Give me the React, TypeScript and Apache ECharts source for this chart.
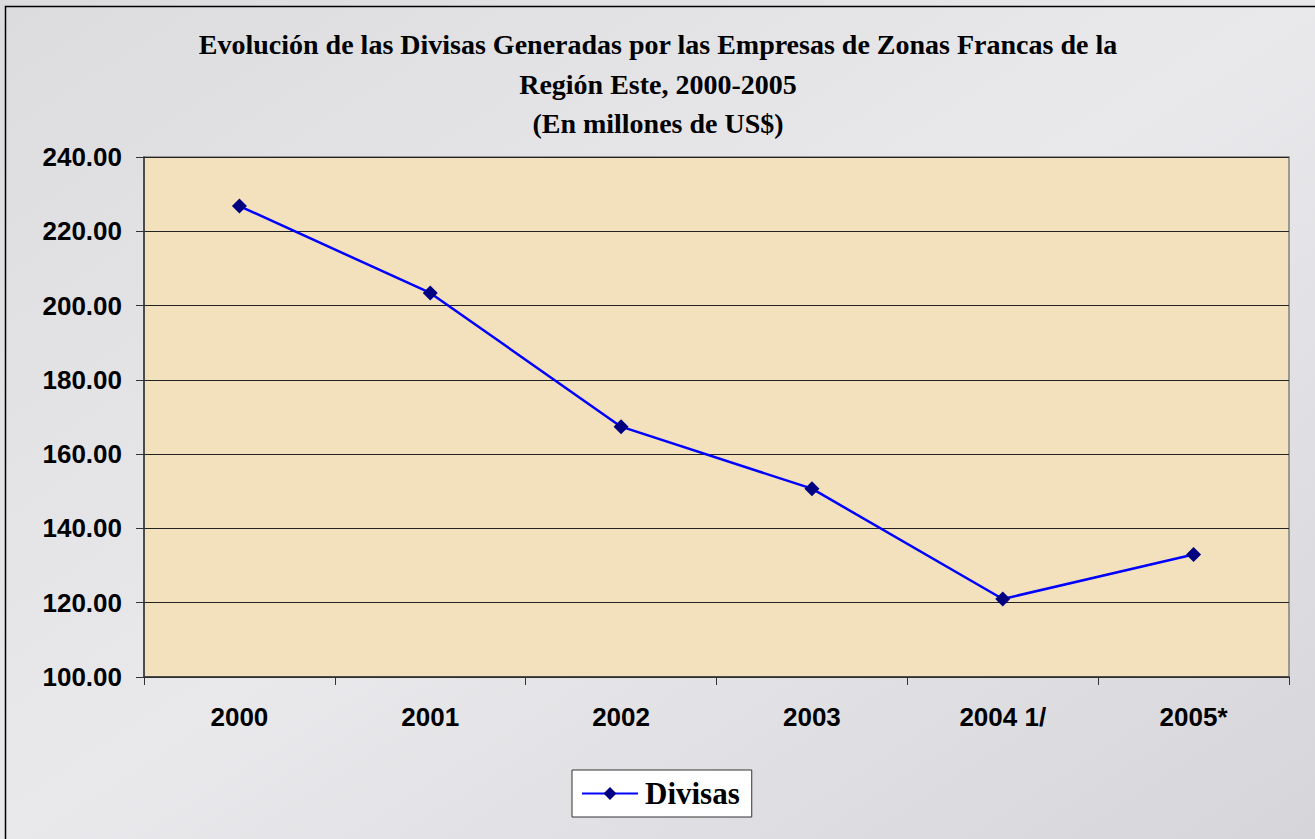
import React, { useEffect, useRef } from "react";
import * as echarts from "echarts";

const categories = ["2000", "2001", "2002", "2003", "2004 1/", "2005*"];
const divisas = [226.8, 203.4, 167.4, 150.7, 121.0, 133.0];
const titleLines = [
  "Evolución de las Divisas Generadas por las Empresas de Zonas Francas de la",
  "Región Este, 2000-2005",
  "(En millones de US$)",
];
const seriesName = "Divisas";

export default function App() {
  const ref = useRef<HTMLDivElement>(null);
  useEffect(() => {
    if (!ref.current) return;
    const chart = echarts.init(ref.current, undefined, { renderer: "svg" });
    chart.setOption({
      animation: false,
      backgroundColor: {
        type: "linear",
        x: 0,
        y: 0,
        x2: 1,
        y2: 1,
        colorStops: [
          { offset: 0, color: "#dcdcdf" },
          { offset: 0.5, color: "#e9e9ec" },
          { offset: 1, color: "#d6d6da" },
        ],
      },
      graphic: [
        {
          type: "rect",
          shape: { x: 5.5, y: 6.5, width: 1330, height: 860 },
          style: { fill: "none", stroke: "#000", lineWidth: 1.5 },
          silent: true,
        },
      ],
      title: {
        text: titleLines.join("\n"),
        left: 658,
        textAlign: "center",
        top: 25,
        padding: 0,
        textStyle: {
          fontFamily: "'Liberation Serif', 'Times New Roman', serif",
          fontWeight: "bold",
          fontSize: 28,
          lineHeight: 39.5,
          color: "#000",
        },
      },
      grid: {
        left: 144,
        right: 26,
        top: 157,
        bottom: 162,
        show: true,
        backgroundColor: "#f3e1bd",
        borderColor: "#808080",
        borderWidth: 1.5,
      },
      legend: {
        top: 770,
        left: 572,
        data: [seriesName],
        backgroundColor: "#ffffff",
        borderColor: "#333",
        borderWidth: 1,
        padding: [6, 12, 6, 9],
        itemWidth: 56,
        itemHeight: 16,
        itemGap: 0,
        textStyle: {
          fontFamily: "'Liberation Serif', 'Times New Roman', serif",
          fontWeight: "bold",
          fontSize: 31,
          lineHeight: 35,
          color: "#000",
          padding: [0, 0, 0, 2],
        },
      },
      xAxis: {
        type: "category",
        data: categories,
        boundaryGap: true,
        axisLine: { lineStyle: { color: "#333", width: 1.5 } },
        axisTick: { show: true, length: 8, lineStyle: { color: "#333" } },
        axisLabel: {
          margin: 27,
          fontFamily: "'Liberation Sans', Arial, sans-serif",
          fontWeight: "bold",
          fontSize: 26,
          color: "#000",
        },
      },
      yAxis: {
        type: "value",
        min: 100,
        max: 240,
        interval: 20,
        axisLine: { show: true, lineStyle: { color: "#333", width: 1.5 } },
        axisTick: { show: true, length: 8, lineStyle: { color: "#333" } },
        splitLine: { show: true, lineStyle: { color: "#222", width: 1 } },
        axisLabel: {
          margin: 22,
          formatter: (v: number) => v.toFixed(2),
          fontFamily: "'Liberation Sans', Arial, sans-serif",
          fontWeight: "bold",
          fontSize: 26,
          color: "#000",
        },
      },
      series: [
        {
          name: seriesName,
          type: "line",
          data: divisas,
          symbol: "diamond",
          symbolSize: 15,
          itemStyle: { color: "#000080" },
          lineStyle: { color: "#0000ff", width: 2.5 },
        },
      ],
    });
    return () => chart.dispose();
  }, []);
  return (
    <div
      ref={ref}
      style={{ position: "fixed", left: 0, top: 0, width: 1315, height: 839 }}
    />
  );
}
